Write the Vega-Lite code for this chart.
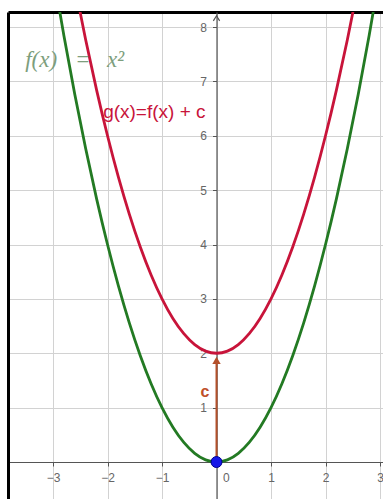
{
  "$schema": "https://vega.github.io/schema/vega-lite/v6.json",
  "width": 375,
  "height": 487,
  "padding": {"left": 8, "top": 12, "right": 0, "bottom": 0},
  "autosize": {"type": "none"},
  "background": "white",
  "config": {"view": {"stroke": null}},
  "resolve": {"axis": {"x": "independent", "y": "independent"}},
  "datasets": {
    "curves": [
      {"x": -3.0, "f": 9.0, "g": 11.0},
      {"x": -2.8, "f": 7.84, "g": 9.84},
      {"x": -2.6, "f": 6.76, "g": 8.76},
      {"x": -2.4, "f": 5.76, "g": 7.76},
      {"x": -2.2, "f": 4.84, "g": 6.84},
      {"x": -2.0, "f": 4.0, "g": 6.0},
      {"x": -1.8, "f": 3.24, "g": 5.24},
      {"x": -1.6, "f": 2.56, "g": 4.56},
      {"x": -1.4, "f": 1.96, "g": 3.96},
      {"x": -1.2, "f": 1.44, "g": 3.44},
      {"x": -1.0, "f": 1.0, "g": 3.0},
      {"x": -0.8, "f": 0.64, "g": 2.64},
      {"x": -0.6, "f": 0.36, "g": 2.36},
      {"x": -0.4, "f": 0.16, "g": 2.16},
      {"x": -0.2, "f": 0.04, "g": 2.04},
      {"x": 0.0, "f": 0.0, "g": 2.0},
      {"x": 0.2, "f": 0.04, "g": 2.04},
      {"x": 0.4, "f": 0.16, "g": 2.16},
      {"x": 0.6, "f": 0.36, "g": 2.36},
      {"x": 0.8, "f": 0.64, "g": 2.64},
      {"x": 1.0, "f": 1.0, "g": 3.0},
      {"x": 1.2, "f": 1.44, "g": 3.44},
      {"x": 1.4, "f": 1.96, "g": 3.96},
      {"x": 1.6, "f": 2.56, "g": 4.56},
      {"x": 1.8, "f": 3.24, "g": 5.24},
      {"x": 2.0, "f": 4.0, "g": 6.0},
      {"x": 2.2, "f": 4.84, "g": 6.84},
      {"x": 2.4, "f": 5.76, "g": 7.76},
      {"x": 2.6, "f": 6.76, "g": 8.76},
      {"x": 2.8, "f": 7.84, "g": 9.84},
      {"x": 3.0, "f": 9.0, "g": 11.0}
    ]
  },
  "layer": [
    {
      "data": {"name": "curves"},
      "mark": {"type": "line", "color": "#c8143a", "strokeWidth": 2.8, "interpolate": "monotone", "clip": true},
      "encoding": {
        "x": {"field": "x", "type": "quantitative",
          "scale": {"domain": [-3.826, 3.055], "nice": false, "zero": false},
          "axis": {"orient": "bottom", "offset": -37, "values": [-3, -2, -1, 0, 1, 2, 3], "title": null,
            "grid": true, "gridColor": "#d2d2d2", "gridWidth": 1,
            "domain": true, "domainColor": "#555555", "domainWidth": 1.2,
            "ticks": true, "tickColor": "#555555", "tickSize": 4, "tickWidth": 1,
            "labels": true, "labelColor": "#666666", "labelFont": "Liberation Sans", "labelFontSize": 12,
            "labelPadding": 6,
            "labelAlign": {"condition": {"test": "datum.value === 0", "value": "left"}, "value": "center"},
            "labelOffset": {"condition": {"test": "datum.value === 0", "value": 6}, "value": 0}}},
        "y": {"field": "g", "type": "quantitative",
          "scale": {"domain": [-0.68, 8.276], "nice": false, "zero": false},
          "axis": {"orient": "left", "offset": -208.5, "values": [1, 2, 3, 4, 5, 6, 7, 8], "title": null,
            "grid": true, "gridColor": "#d2d2d2", "gridWidth": 1,
            "domain": true, "domainColor": "#555555", "domainWidth": 1.2,
            "ticks": true, "tickColor": "#555555", "tickSize": 4, "tickWidth": 1,
            "labels": true, "labelColor": "#666666", "labelFont": "Liberation Sans", "labelFontSize": 12,
            "labelPadding": 6}}
      }
    },
    {
      "data": {"name": "curves"},
      "mark": {"type": "line", "color": "#237a23", "strokeWidth": 2.8, "interpolate": "monotone", "clip": true},
      "encoding": {
        "x": {"field": "x", "type": "quantitative", "axis": null},
        "y": {"field": "f", "type": "quantitative", "axis": null}
      }
    },
    {
      "data": {"values": [{"x0": 0, "y0": 0, "y1": 1.82}]},
      "mark": {"type": "rule", "color": "#b4502a", "strokeWidth": 2},
      "encoding": {
        "x": {"field": "x0", "type": "quantitative", "axis": null},
        "y": {"field": "y0", "type": "quantitative", "axis": null},
        "y2": {"field": "y1"}
      }
    },
    {
      "data": {"values": [{"x": 0, "y": 1.87}]},
      "mark": {"type": "point", "shape": "triangle-up", "filled": true, "color": "#b4502a", "size": 70, "opacity": 1},
      "encoding": {
        "x": {"field": "x", "type": "quantitative", "axis": null},
        "y": {"field": "y", "type": "quantitative", "axis": null}
      }
    },
    {
      "data": {"values": [{"x": 0, "y": 8.16}]},
      "mark": {"type": "point", "shape": "M -1 0.8 L 0 -0.8 L 1 0.8", "filled": false, "stroke": "#555555", "strokeWidth": 1.2, "size": 40, "opacity": 1},
      "encoding": {
        "x": {"field": "x", "type": "quantitative", "axis": null},
        "y": {"field": "y", "type": "quantitative", "axis": null}
      }
    },
    {
      "data": {"values": [{"x": 0, "y": 0}]},
      "mark": {"type": "point", "shape": "circle", "filled": true, "fill": "#1616e8", "stroke": "#00008a", "strokeWidth": 1, "size": 120, "opacity": 1},
      "encoding": {
        "x": {"field": "x", "type": "quantitative",
          "axis": {"orient": "top", "domain": true, "domainColor": "#000000", "domainWidth": 3, "ticks": false, "labels": false, "grid": false, "title": null}},
        "y": {"field": "y", "type": "quantitative",
          "axis": {"orient": "left", "domain": true, "domainColor": "#000000", "domainWidth": 3, "ticks": false, "labels": false, "grid": false, "title": null}}
      }
    },
    {
      "data": {"values": [{"x": -0.21, "y": 1.29, "text": "c"}]},
      "mark": {"type": "text", "color": "#c0502a", "font": "Liberation Sans", "fontSize": 16, "fontWeight": "bold", "align": "center", "baseline": "middle"},
      "encoding": {
        "x": {"field": "x", "type": "quantitative", "axis": null},
        "y": {"field": "y", "type": "quantitative", "axis": null},
        "text": {"field": "text"}
      }
    },
    {
      "data": {"values": [{"x": -2.08, "y": 6.44, "text": "g(x)=f(x) + c"}]},
      "mark": {"type": "text", "color": "#c8143a", "font": "Liberation Sans", "fontSize": 19, "align": "left", "baseline": "middle"},
      "encoding": {
        "x": {"field": "x", "type": "quantitative", "axis": null},
        "y": {"field": "y", "type": "quantitative", "axis": null},
        "text": {"field": "text"}
      }
    },
    {
      "data": {"values": [
        {"x": -3.51, "y": 7.39, "text": "f(x)"},
        {"x": -2.01, "y": 7.39, "text": "x²"}
      ]},
      "mark": {"type": "text", "color": "#7d9e7d", "font": "Liberation Serif", "fontSize": 23, "fontStyle": "italic", "align": "left", "baseline": "middle"},
      "encoding": {
        "x": {"field": "x", "type": "quantitative", "axis": null},
        "y": {"field": "y", "type": "quantitative", "axis": null},
        "text": {"field": "text"}
      }
    },
    {
      "data": {"values": [
        {"x": -2.45, "y": 7.39, "text": "="}
      ]},
      "mark": {"type": "text", "color": "#7d9e7d", "font": "Liberation Serif", "fontSize": 23, "align": "center", "baseline": "middle"},
      "encoding": {
        "x": {"field": "x", "type": "quantitative", "axis": null},
        "y": {"field": "y", "type": "quantitative", "axis": null},
        "text": {"field": "text"}
      }
    }
  ]
}
